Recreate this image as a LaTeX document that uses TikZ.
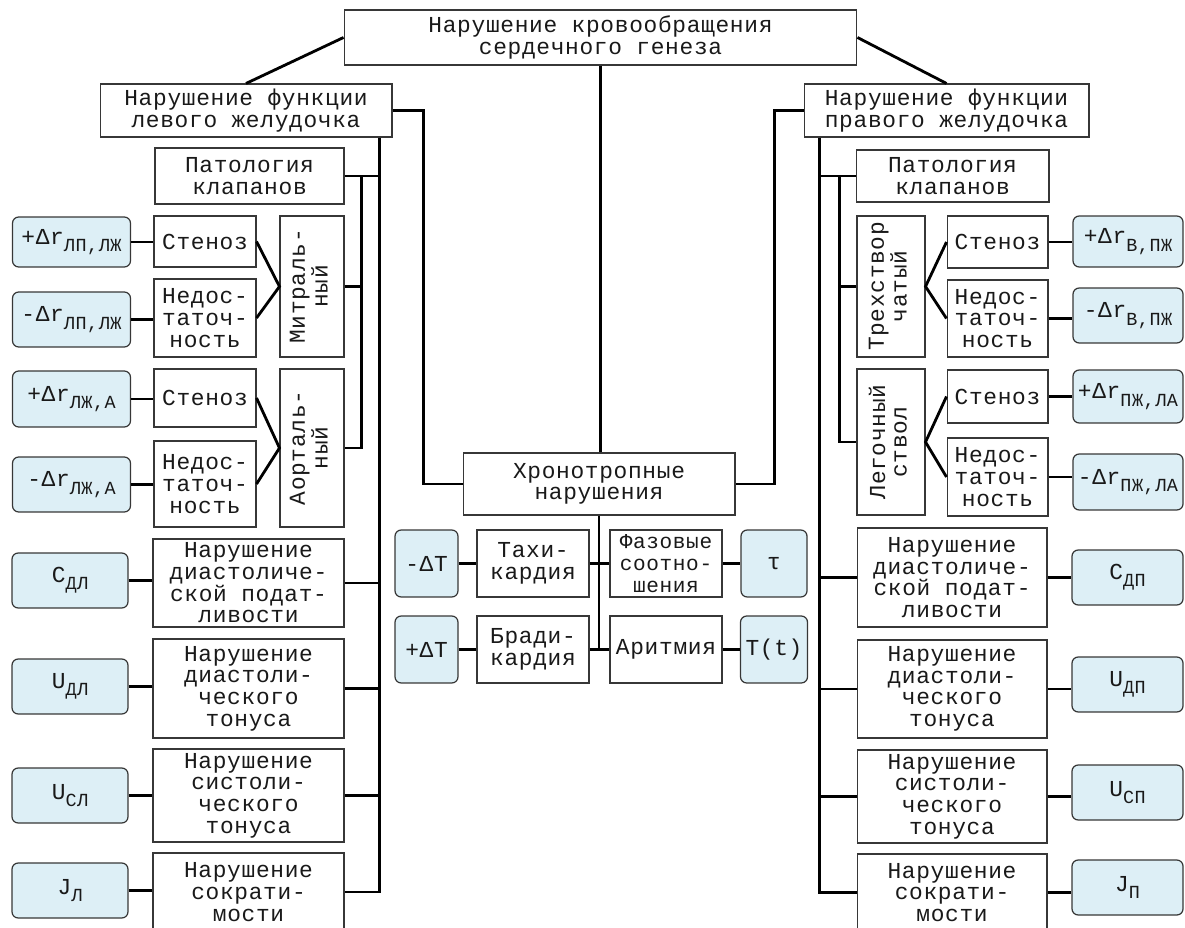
\documentclass[tikz,border=0pt]{standalone}
\usepackage{fontspec}
\usepackage{graphicx}
\newfontfamily\boxfont[LetterSpace=3]{Liberation Mono}
\usetikzlibrary{calc,positioning}
\definecolor{parfill}{RGB}{221,239,246}
\definecolor{frame}{RGB}{55,55,55}
\definecolor{txt}{RGB}{25,25,25}
\newcommand\lowsub[1]{\raisebox{-0.6ex}{\fontsize{10.5}{10.5}\selectfont #1}}
\newcommand\vtext[1]{\rotatebox{90}{\begin{tabular}{@{}c@{}}#1\end{tabular}}}

\begin{document}
\begin{tikzpicture}[x=0.02cm, y=-0.02cm]
\tikzstyle{every node}=[font=\boxfont\fontsize{13}{12.3}\selectfont,
                        text=txt, align=center, inner sep=1pt]
\tikzstyle{blk}=[rectangle, draw=frame, line width=0.6pt]
\tikzstyle{par}=[rectangle, draw=frame, line width=0.7pt,
                 rounded corners=3.5pt, fill=parfill]
\tikzstyle{link}=[line width=1.6pt]
\useasboundingbox (0,0) rectangle (1185,928);

\node[blk, minimum width=10.26cm, minimum height=1.1cm] (top) at (600.5,37.5)
  {Нарушение кровообращения\\сердечного генеза};
\node[blk, minimum width=5.84cm, minimum height=1.06cm] (lv) at (246,110.5)
  {Нарушение функции\\левого желудочка};
\node[blk, minimum width=5.7cm, minimum height=1.06cm] (rv) at (946.5,110.5)
  {Нарушение функции\\правого желудочка};
\node[blk, minimum width=5.44cm, minimum height=1.24cm] (chrono) at (599,484)
  {Хронотропные\\нарушения};

% left ventricle
\node[blk, minimum width=3.78cm, minimum height=1.12cm] (patL) at (249.5,176) {Патология\\клапанов};
\node[blk, minimum width=2.04cm, minimum height=1.02cm] (stenLa) at (205,241.5) {Стеноз};
\node[blk, minimum width=2.04cm, minimum height=1.56cm] (nedLa) at (205,318) {Недос-\\таточ-\\ность};
\node[blk, minimum width=1.28cm, minimum height=2.82cm] (mitr) at (312,286.5) {\vtext{Митраль-\\ный}};
\node[blk, minimum width=2.04cm, minimum height=1.16cm] (stenLb) at (205,398) {Стеноз};
\node[blk, minimum width=2.04cm, minimum height=1.72cm] (nedLb) at (205,484) {Недос-\\таточ-\\ность};
\node[blk, minimum width=1.28cm, minimum height=3.16cm] (aort) at (312,448) {\vtext{Аорталь-\\ный}};
\node[blk, minimum width=3.82cm, minimum height=1.76cm] (podL) at (248.5,583)
  {Нарушение\\диастоличе-\\ской подат-\\ливости};
\node[blk, minimum width=3.82cm, minimum height=1.98cm] (dtonL) at (248.5,688.5)
  {Нарушение\\диастоли-\\ческого\\тонуса};
\node[blk, minimum width=3.82cm, minimum height=1.86cm] (stonL) at (248.5,795.5)
  {Нарушение\\систоли-\\ческого\\тонуса};
\node[blk, minimum width=3.82cm, minimum height=1.56cm] (sokrL) at (248.5,892)
  {Нарушение\\сократи-\\мости};

\node[par, minimum width=2.36cm, minimum height=1.0cm] (pLa) at (71.5,242) {+Δr\lowsub{ЛП,ЛЖ}};
\node[par, minimum width=2.36cm, minimum height=1.1cm] (pLb) at (71.5,319.5) {-Δr\lowsub{ЛП,ЛЖ}};
\node[par, minimum width=2.36cm, minimum height=1.12cm] (pLc) at (71.5,399) {+Δr\lowsub{ЛЖ,А}};
\node[par, minimum width=2.36cm, minimum height=1.1cm] (pLd) at (71.5,484.5) {-Δr\lowsub{ЛЖ,А}};
\node[par, minimum width=2.32cm, minimum height=1.1cm] (cDL) at (70,580.5) {C\lowsub{ДЛ}};
\node[par, minimum width=2.32cm, minimum height=1.1cm] (uDL) at (70,686.5) {U\lowsub{ДЛ}};
\node[par, minimum width=2.32cm, minimum height=1.1cm] (uSL) at (70,795.5) {U\lowsub{СЛ}};
\node[par, minimum width=2.32cm, minimum height=1.1cm] (jL) at (70,890.5) {J\lowsub{Л}};

% right ventricle
\node[blk, minimum width=3.86cm, minimum height=1.04cm] (patR) at (952.5,176) {Патология\\клапанов};
\node[blk, minimum width=1.36cm, minimum height=2.82cm] (tri) at (891,286.5) {\vtext{Трехствор\\чатый}};
\node[blk, minimum width=2.02cm, minimum height=1.04cm] (stenRa) at (997.5,242) {Стеноз};
\node[blk, minimum width=2.02cm, minimum height=1.54cm] (nedRa) at (997.5,318.5) {Недос-\\таточ-\\ность};
\node[blk, minimum width=1.36cm, minimum height=2.92cm] (leg) at (891,442) {\vtext{Легочный\\ствол}};
\node[blk, minimum width=2.02cm, minimum height=1.06cm] (stenRb) at (997.5,396.5) {Стеноз};
\node[blk, minimum width=2.02cm, minimum height=1.56cm] (nedRb) at (997.5,477) {Недос-\\таточ-\\ность};
\node[blk, minimum width=3.8cm, minimum height=1.98cm] (podR) at (952,577.5)
  {Нарушение\\диастоличе-\\ской подат-\\ливости};
\node[blk, minimum width=3.8cm, minimum height=1.96cm] (dtonR) at (952,689)
  {Нарушение\\диастоли-\\ческого\\тонуса};
\node[blk, minimum width=3.8cm, minimum height=1.86cm] (stonR) at (952,796.5)
  {Нарушение\\систоли-\\ческого\\тонуса};
\node[blk, minimum width=3.8cm, minimum height=1.54cm] (sokrR) at (952,892.5)
  {Нарушение\\сократи-\\мости};

\node[par, minimum width=2.2cm, minimum height=1.02cm] (pRa) at (1128,241.5) {+Δr\lowsub{В,ПЖ}};
\node[par, minimum width=2.2cm, minimum height=1.1cm] (pRb) at (1128,315.5) {-Δr\lowsub{В,ПЖ}};
\node[par, minimum width=2.2cm, minimum height=1.06cm] (pRc) at (1128,396.5) {+Δr\lowsub{ПЖ,ЛА}};
\node[par, minimum width=2.2cm, minimum height=1.12cm] (pRd) at (1128,482) {-Δr\lowsub{ПЖ,ЛА}};
\node[par, minimum width=2.22cm, minimum height=1.1cm] (cDP) at (1127.5,577.5) {C\lowsub{ДП}};
\node[par, minimum width=2.22cm, minimum height=1.1cm] (uDP) at (1127.5,684.5) {U\lowsub{ДП}};
\node[par, minimum width=2.22cm, minimum height=1.1cm] (uSP) at (1127.5,792.5) {U\lowsub{СП}};
\node[par, minimum width=2.22cm, minimum height=1.1cm] (jP) at (1127.5,887.5) {J\lowsub{П}};

% chronotropic
\node[par, minimum width=1.26cm, minimum height=1.34cm] (mT) at (426.5,563.5) {-ΔT};
\node[blk, minimum width=2.24cm, minimum height=1.34cm] (tachy) at (533,563.5) {Тахи-\\кардия};
\node[blk, minimum width=2.24cm, minimum height=1.34cm, font=\boxfont\fontsize{12}{12.3}\selectfont]
  (phase) at (666,563.5) {Фазовые\\соотно-\\шения};
\node[par, minimum width=1.32cm, minimum height=1.34cm] (tau) at (774,563.5) {τ};
\node[par, minimum width=1.26cm, minimum height=1.34cm] (pT) at (426.5,649.5) {+ΔT};
\node[blk, minimum width=2.24cm, minimum height=1.34cm] (brady) at (533,649.5) {Бради-\\кардия};
\node[blk, minimum width=2.24cm, minimum height=1.34cm] (arr) at (666,649.5) {Аритмия};
\node[par, minimum width=1.34cm, minimum height=1.34cm] (Tt) at (774,649.5) {T(t)};

\draw[link] (top.west) -- (lv.north);
\draw[link] (top.east) -- (rv.north);
\draw[link] (top.south) -- (top.south |- chrono.north);
\draw[link] (lv.east) -- ++(31,0) |- (chrono.west);
\draw[link] (rv.west) -- ++(-29,0) |- (chrono.east);

\coordinate (lbus) at ($(lv.south east)+(-13,0)$);
\coordinate (lvalve) at ($(patL.east)+(17,0)$);
\draw[link] (lbus) |- (sokrL.east);
\draw[link] (patL.east) -- (patL.east -| lbus);
\draw[link] (podL.east) -- (podL.east -| lbus);
\draw[link] (dtonL.east) -- (dtonL.east -| lbus);
\draw[link] (stonL.east) -- (stonL.east -| lbus);
\draw[link] (lvalve) |- (aort.east);
\draw[link] (mitr.east) -- (mitr.east -| lvalve);
\draw[link] (stenLa.east) -- (mitr.west) -- (nedLa.east);
\draw[link] (stenLb.east) -- (aort.west) -- (nedLb.east);
\draw[link] (pLa.east) -- (pLa.east -| stenLa.west);
\draw[link] (pLb.east) -- (pLb.east -| nedLa.west);
\draw[link] (pLc.east) -- (pLc.east -| stenLb.west);
\draw[link] (pLd.east) -- (pLd.east -| nedLb.west);
\draw[link] (cDL.east) -- (cDL.east -| podL.west);
\draw[link] (uDL.east) -- (uDL.east -| dtonL.west);
\draw[link] (uSL.east) -- (uSL.east -| stonL.west);
\draw[link] (jL.east) -- (jL.east -| sokrL.west);

\coordinate (rbus) at ($(rv.south west)+(16,0)$);
\coordinate (rvalve) at ($(patR.west)+(-16,0)$);
\draw[link] (rbus) |- (sokrR.west);
\draw[link] (patR.west) -- (patR.west -| rbus);
\draw[link] (podR.west) -- (podR.west -| rbus);
\draw[link] (dtonR.west) -- (dtonR.west -| rbus);
\draw[link] (stonR.west) -- (stonR.west -| rbus);
\draw[link] (rvalve) |- (leg.west);
\draw[link] (tri.west) -- (tri.west -| rvalve);
\draw[link] (stenRa.west) -- (tri.east) -- (nedRa.west);
\draw[link] (stenRb.west) -- (leg.east) -- (nedRb.west);
\draw[link] (stenRa.east) -- (stenRa.east -| pRa.west);
\draw[link] (nedRa.east) -- (nedRa.east -| pRb.west);
\draw[link] (stenRb.east) -- (stenRb.east -| pRc.west);
\draw[link] (nedRb.east) -- (nedRb.east -| pRd.west);
\draw[link] (podR.east) -- (podR.east -| cDP.west);
\draw[link] (dtonR.east) -- (dtonR.east -| uDP.west);
\draw[link] (stonR.east) -- (stonR.east -| uSP.west);
\draw[link] (sokrR.east) -- (sokrR.east -| jP.west);

\draw[link] (chrono.south) -- (chrono.south |- arr.west);
\draw[link] (mT) -- (tachy) (tachy) -- (phase) (phase) -- (tau);
\draw[link] (pT) -- (brady) (brady) -- (arr) (arr) -- (Tt);
\end{tikzpicture}
\end{document}
